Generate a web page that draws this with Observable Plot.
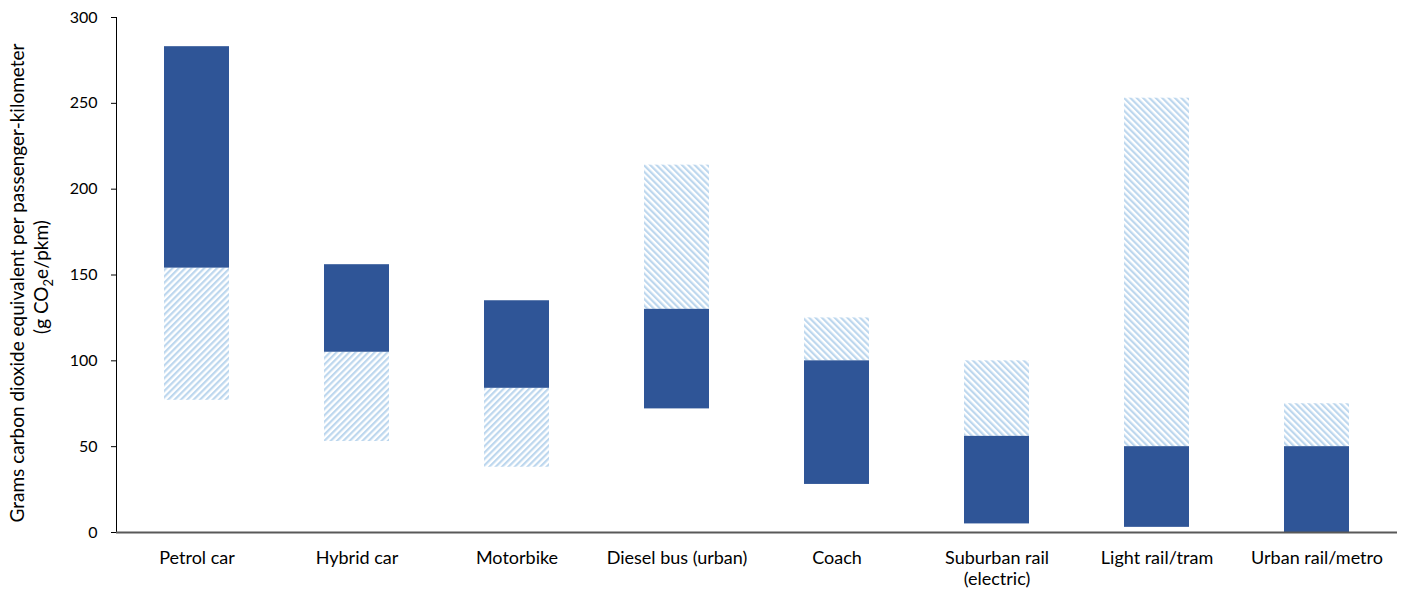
<!DOCTYPE html>
<html>
<head>
<meta charset="utf-8">
<script src="https://cdn.jsdelivr.net/npm/d3@7"></script>
<script src="https://cdn.jsdelivr.net/npm/@observablehq/plot@0.6"></script>
<style>
  html, body { margin: 0; padding: 0; background: #fff; }
  #chart svg { display: block; font-family: Lato, "Open Sans", sans-serif; }
</style>
</head>
<body>
<div id="chart"></div>
<script>
const categories = ["Petrol car", "Hybrid car", "Motorbike", "Diesel bus (urban)", "Coach", "Suburban rail\n(electric)", "Light rail/tram", "Urban rail/metro"];
const solidLow  = [154, 105, 84, 72, 28, 5, 3, 0];
const solidHigh = [283, 156, 135, 130, 100, 56, 50, 50];
const hatchLow  = [77, 53, 38, 130, 100, 56, 50, 50];
const hatchHigh = [154, 105, 84, 214, 125, 100, 253, 75];
const yTicks = [0, 50, 100, 150, 200, 250, 300];

const solid = categories.map((c, i) => ({cat: c, lo: solidLow[i], hi: solidHigh[i]}));
const hatch = categories.map((c, i) => ({cat: c, lo: hatchLow[i], hi: hatchHigh[i], up: hatchLow[i] < solidLow[i]}));

const chart = Plot.plot({
  width: 1407,
  height: 595,
  marginLeft: 116,
  marginRight: 10,
  marginTop: 17,
  marginBottom: 63,
  style: {fontFamily: "Lato, 'Open Sans', sans-serif", fontSize: "16px", color: "#000", background: "#fff"},
  x: {domain: categories, paddingInner: 0.594, paddingOuter: 0.297, label: null},
  y: {domain: [0, 300], ticks: yTicks, label: null},
  marks: [
    Plot.barY(hatch, {x: "cat", y1: "lo", y2: "hi", fill: d => d.up ? "url(#hatchUp)" : "url(#hatchDown)"}),
    Plot.barY(solid, {x: "cat", y1: "lo", y2: "hi", fill: "#2f5597"}),
    Plot.axisY({ticks: yTicks, tickSize: 5, tickPadding: 14, fontSize: 16, label: null, textStroke: "none"}),
    Plot.frame({anchor: "left", stroke: "#000", strokeWidth: 1}),
    Plot.axisX({tickSize: 0, tickPadding: 16, fontSize: 18, label: null, lineHeight: 1.2}),
    Plot.ruleY([0], {stroke: "#595959", strokeWidth: 2})
  ]
});

document.getElementById("chart").appendChild(chart);

// hatch patterns
const svg = d3.select(chart);
const defs = svg.insert("defs", ":first-child");
function addPattern(id, up) {
  const p = defs.append("pattern")
    .attr("id", id)
    .attr("patternUnits", "userSpaceOnUse")
    .attr("width", 4.5).attr("height", 4.5)
    .attr("patternTransform", `rotate(${up ? 45 : -45})`);
  p.append("rect").attr("width", 4.5).attr("height", 4.5).attr("fill", "#ffffff");
  p.append("rect").attr("x", 0).attr("y", 0).attr("width", 2.2).attr("height", 4.5).attr("fill", "#bdd7ee");
}
addPattern("hatchUp", true);
addPattern("hatchDown", false);

// y-axis title with subscript
const cy = 283;
const g = svg.append("g").attr("font-size", 19).attr("fill", "#000").attr("text-anchor", "middle");
g.append("text")
  .attr("transform", `translate(24,${cy}) rotate(-90)`)
  .text("Grams carbon dioxide equivalent per passenger-kilometer");
const t2 = g.append("text")
  .attr("transform", `translate(48,${cy - 6}) rotate(-90)`);
t2.append("tspan").text("(g CO");
t2.append("tspan").attr("font-size", 13).attr("dy", 5).text("2");
t2.append("tspan").attr("dy", -5).text("e/pkm)");
</script>
</body>
</html>
